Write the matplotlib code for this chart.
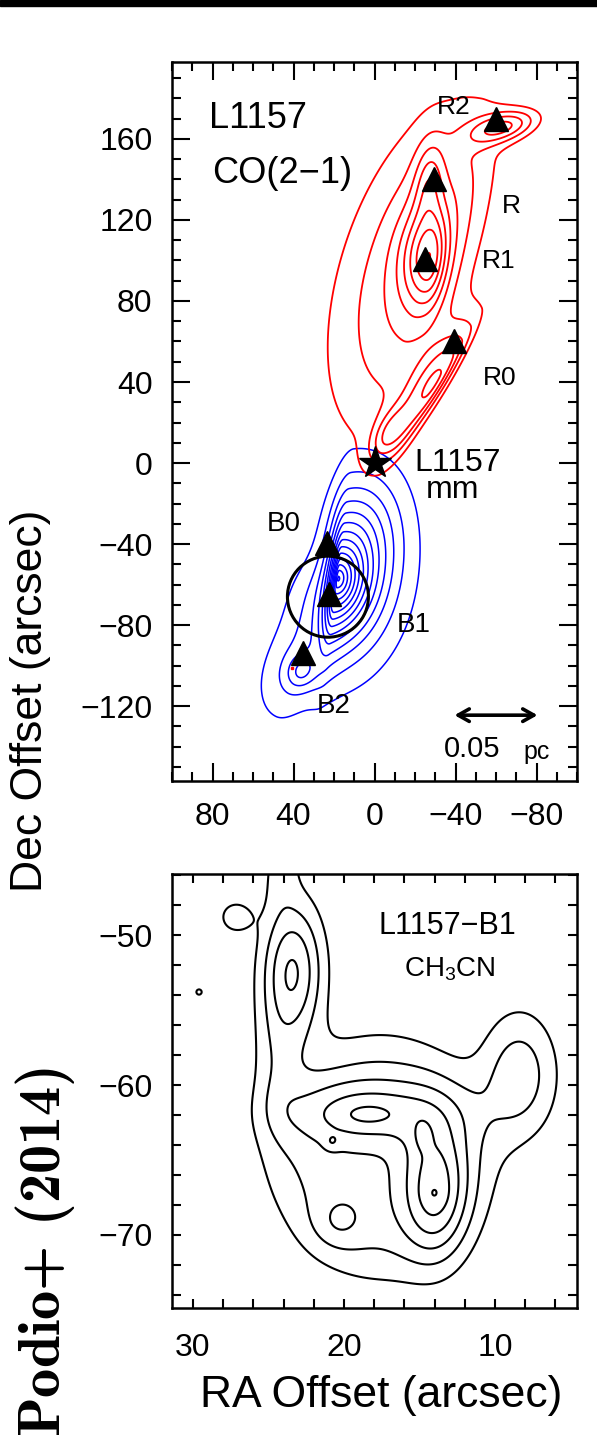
import numpy as np
import matplotlib
matplotlib.use("Agg")
import matplotlib.pyplot as plt
from matplotlib.patches import Rectangle, Circle
from matplotlib.ticker import MultipleLocator

plt.rcParams["font.family"] = ["Liberation Sans", "DejaVu Sans"]
plt.rcParams["mathtext.default"] = "regular"

# ---- top panel: CO(2-1) emission components (RA off, Dec off in arcsec)
red_x0 = [-25, -27, -30, -64, -27, -7]
red_y0 = [95, 102, 40, 166, 140, 14]
red_major = [60, 17, 24, 12, 14, 10]
red_east = [28, 9, 7, 5, 5, 5]
red_west = [15, 6, 3.5, 5, 5, 5]
red_pa = [108, 95, 122, 165, 95, 120]
red_amp = [3.0, 3.6, 3.6, 3.0, 1.8, 2.0]
red_shape = [2, 2, 2, 2, 2, 2]
red_levels = [1, 1.8, 2.6, 3.4, 4.2, 5.0, 5.8, 6.6]

blue_x0 = [7, 37, 24, 18, 36]
blue_y0 = [-33, -100, -66, -57, -103]
blue_major = [22, 22, 15, 15, 6]
blue_east = [14, 13, 14, 2.5, 5]
blue_west = [14, 10, 13, 10, 5]
blue_pa = [100, 115, 110, 97, 115]
blue_amp = [2.0, 2.2, 1.5, 12.0, 2.0]
blue_shape = [2, 2, 2, 1.2, 2]
blue_levels = list(range(1, 16))

knot_names = ["R2", "R", "R1", "R0", "B0", "B1", "B2"]
knot_x = [-60, -29.6, -24.7, -39.5, 23.4, 22.7, 35.5]
knot_y = [170, 140, 100.5, 60, -39.7, -64.5, -94]

# ---- bottom panel: CH3CN emission components
ch_x0 = [23.4, 24.1, 24.5, 17.6, 18.5, 18.4, 13.9, 14.0, 20.8, 14.8, 20.4, 8.4, 27.2, 29.6]
ch_y0 = [-52.4, -45.0, -59.0, -64.8, -61.8, -62.0, -67.0, -67.3, -63.8, -63.4, -69.2, -59.3, -48.8, -53.8]
ch_major = [3.3, 2.0, 3.5, 6.9, 3.8, 1.2, 3.2, 0.5, 0.35, 0.7, 1.2, 3.0, 0.8, 0.45]
ch_east = [1.45, 0.8, 1.2, 6.2, 1.5, 0.5, 1.5, 0.5, 0.35, 0.4, 1.2, 1.8, 0.8, 0.45]
ch_west = [1.45, 0.8, 1.2, 6.3, 1.5, 0.5, 1.5, 0.5, 0.35, 0.4, 1.2, 1.8, 0.8, 0.45]
ch_pa = [90, 95, 90, 90, 0, 0, 90, 0, 0, 90, 0, 90, 0, 0]
ch_amp = [4.0, 1.3, 1.3, 2.6, 2.2, 0.6, 3.3, 0.4, 0.8, 0.8, 1.0, 2.6, 1.6, 1.08]
ch_shape = [2, 2, 2, 4, 2, 2, 2, 2, 2, 2, 2, 2, 2, 2]
ch_levels = [1, 2, 3, 4, 5, 6]


def emission(X, Y, x0s, y0s, majors, easts, wests, pas, amps, shapes):
    f = np.zeros_like(X)
    for x0, y0, sa, se, sw, pa, amp, p in zip(x0s, y0s, majors, easts, wests,
                                               pas, amps, shapes):
        t = np.deg2rad(pa)
        dx, dy = X - x0, Y - y0
        u = dx * np.cos(t) + dy * np.sin(t)
        w = dx * np.sin(t) - dy * np.cos(t)
        sb = np.where(w > 0, se, sw)
        r2 = (u / sa) ** 2 + (w / sb) ** 2
        f += amp * np.exp(-0.5 * r2 ** (p / 2))
    return f


W, H = 597, 1446
fig = plt.figure(figsize=(W / 100, H / 100), dpi=100)
fig.patches.append(Rectangle((0, 1 - 6 / H), 1, 6 / H, transform=fig.transFigure,
                             color="black", zorder=10))

# ---------------- top panel
ax = fig.add_axes([172 / W, 1 - 781 / H, 405 / W, 719 / H])
ax.set_xlim(100, -100)
ax.set_ylim(-157, 198)

gx = np.linspace(100, -100, 500)
gy = np.linspace(-157, 198, 900)
X, Y = np.meshgrid(gx, gy)
blue = emission(X, Y, blue_x0, blue_y0, blue_major, blue_east, blue_west,
                blue_pa, blue_amp, blue_shape)
red = emission(X, Y, red_x0, red_y0, red_major, red_east, red_west,
               red_pa, red_amp, red_shape)
ax.contour(X, Y, blue, levels=blue_levels, colors="#0000ff", linewidths=1.1)
ax.contour(X, Y, red, levels=red_levels, colors="#ff0000", linewidths=1.3)

ax.plot(knot_x, knot_y, "^", color="black", markersize=17, zorder=5)
ax.plot([0], [0], "*", color="black", markersize=24, zorder=5)
ax.plot([40.5], [-101], "s", color="red", markersize=2)
ax.add_patch(Circle((23, -66), 20, fill=False, lw=2.2, color="black", zorder=6))

ax.annotate("", xy=(-80.5, -124.5), xytext=(-39.5, -124.5),
            arrowprops=dict(arrowstyle="<->,head_length=0.8,head_width=0.45",
                            lw=2.6, color="black", shrinkA=0, shrinkB=0))
ax.text(-48, -141, "0.05", fontsize=21, ha="center", va="center")
ax.text(-80, -142.5, "pc", fontsize=18, ha="center", va="center")

ax.text(81.5, 170, "L1157", fontsize=26, ha="left", va="center")
ax.text(80, 143, "CO(2\u22121)", fontsize=26, ha="left", va="center")
ax.text(-30.6, 176, "R2", fontsize=19, ha="left", va="center")
ax.text(-63, 127, "R", fontsize=19, ha="left", va="center")
ax.text(-53, 99.5, "R1", fontsize=19, ha="left", va="center")
ax.text(-53.5, 42, "R0", fontsize=19, ha="left", va="center")
ax.text(-19.8, 0, "L1157", fontsize=23, ha="left", va="center")
ax.text(-38.8, -13.4, "mm", fontsize=23, ha="center", va="center")
ax.text(45, -30, "B0", fontsize=20, ha="center", va="center")
ax.text(-10.9, -80, "B1", fontsize=20, ha="left", va="center")
ax.text(20, -120, "B2", fontsize=20, ha="center", va="center")

ax.xaxis.set_major_locator(MultipleLocator(40))
ax.xaxis.set_minor_locator(MultipleLocator(10))
ax.yaxis.set_major_locator(MultipleLocator(40))
ax.yaxis.set_minor_locator(MultipleLocator(10))
ax.tick_params(which="both", direction="in", top=True, right=True, width=1.5,
               labelsize=23)
ax.tick_params(which="major", length=13)
ax.tick_params(which="minor", length=6.5)
ax.tick_params(axis="y", pad=14)
ax.tick_params(axis="x", pad=15)
for s in ax.spines.values():
    s.set_linewidth(1.8)

# ---------------- bottom panel
bx = fig.add_axes([172 / W, 1 - 1308 / H, 405 / W, 434 / H])
bx.set_xlim(31.39, 4.57)
bx.set_ylim(-74.87, -45.93)

hx = np.linspace(31.39, 4.57, 400)
hy = np.linspace(-74.87, -45.93, 430)
HX, HY = np.meshgrid(hx, hy)
ch = emission(HX, HY, ch_x0, ch_y0, ch_major, ch_east, ch_west, ch_pa, ch_amp, ch_shape)
bx.contour(HX, HY, ch, levels=ch_levels, colors="black", linewidths=1.5)

bx.text(13.15, -49.4, "L1157\u2212B1", fontsize=22, ha="center", va="center")
bx.text(13.0, -52.3, "CH$_\\mathregular{3}$CN", fontsize=20, ha="center", va="center")

bx.xaxis.set_major_locator(MultipleLocator(10))
bx.xaxis.set_minor_locator(MultipleLocator(2))
bx.yaxis.set_major_locator(MultipleLocator(10))
bx.yaxis.set_minor_locator(MultipleLocator(2))
bx.tick_params(which="both", direction="in", top=True, right=True, width=1.5,
               length=6.5, labelsize=23)
bx.tick_params(axis="y", pad=14)
bx.tick_params(axis="x", pad=18)
for s in bx.spines.values():
    s.set_linewidth(1.8)

fig.text(31 / W, 1 - 701 / H, "Dec Offset (arcsec)", fontsize=32, rotation=90,
         ha="center", va="center")
fig.text(381 / W, 1 - 1395 / H, "RA Offset (arcsec)", fontsize=32,
         ha="center", va="center")
fig.text(45 / W, 1 - 1252 / H, "Podio$+$ (2014)", fontsize=42, family="cmb10",
         rotation=90, ha="center", va="center", math_fontfamily="cm")

fig.savefig("out.png", dpi=100)
